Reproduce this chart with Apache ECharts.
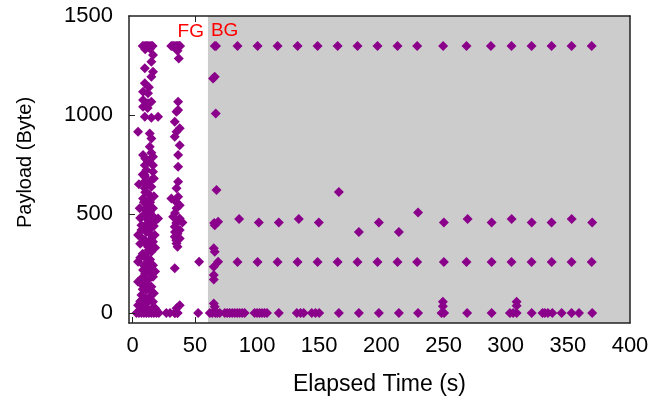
<!DOCTYPE html>
<html>
<head>
<meta charset="utf-8">
<script src="https://cdn.jsdelivr.net/npm/echarts@6/dist/echarts.min.js"></script>
<style>
  html, body { margin: 0; padding: 0; background: #fff; }
  #chart { width: 652px; height: 397px; }
</style>
</head>
<body>
<div id="chart"></div>
<script>
// tick labels
const xTicks = [0, 50, 100, 150, 200, 250, 300, 350, 400];
const yTicks = [0, 500, 1000, 1500];

// foreground phase (before the app goes to background)
const fgTime = [
  8, 9, 10, 11, 12, 13, 14, 15, 16, 10, 14, 16.3, 15,
  9.7, 16.3, 15, 9.7, 13, 8.3, 12.3, 8.3, 15, 12.3, 8.3, 12, 9.7, 15, 20.4,
  4.3, 13.7, 15, 13.7, 8.3, 16.3, 12.3, 9.7, 16.3, 11, 16.3, 9.7, 9.7, 15,
  9.7, 15, 8.3, 13.7, 5.6, 12.3, 16.3, 11, 20.4, 12.3, 7, 15, 4.3, 13.7, 17.7,
  9.7, 16.3, 12.3, 12.3, 15, 9.7, 4.3, 12.3, 16.3, 8.3, 16.3, 7, 12.3, 4.3,
  15, 11, 7, 13.7, 4.3, 9.7, 16.3,
  10, 14, 8, 16, 12, 9, 14, 11, 7, 15, 10, 13, 8, 11, 14, 9, 13, 10, 14,
  11, 8, 15, 10, 13, 7, 11, 15, 12, 10, 13, 9, 12, 14, 11, 10, 13, 8, 15,
  6, 18, 7, 17, 6, 18, 9, 17, 6, 18, 8, 17, 6, 18, 12, 19, 5, 17,
  3, 5, 7, 9, 11, 13, 15, 17, 19, 21, 6, 10, 14, 18,
  31, 32, 33, 34, 35, 36, 37, 38, 36, 37,
  36.5, 36.5, 35.2, 33.8, 37.8, 35.2, 33.8, 37.8, 36.5, 36.5, 36.5, 35.2,
  31.1, 36.5, 35.2, 32.5, 37.8, 33.8, 37.8, 33.8, 37.8, 35.2, 33.8, 37.8,
  35.2, 35.2, 37.8, 34, 36, 35, 34, 36, 35, 36, 34, 36,
  27, 30, 33.8, 36, 37.8, 40,
  53.4, 52.6, 52.6, 52.6
];
const fgPayload = [
  1348, 1348, 1348, 1348, 1348, 1348, 1348, 1348, 1348, 1332, 1335, 1303, 1269,
  1236, 1219, 1193, 1160, 1140, 1118, 1110, 1076, 1067, 1059, 1042, 1035, 991, 986, 991,
  916, 907, 882, 840, 798, 790, 764, 747, 747, 722, 714, 697, 688, 672,
  630, 638, 579, 571, 529, 537, 529, 504, 478, 470, 444, 444, 394, 402, 394,
  369, 360, 343, 335, 310, 293, 259, 251, 242, 217, 183, 175, 167, 158,
  133, 116, 91, 82, 40, 49, 57,
  520, 510, 490, 490, 455, 430, 425, 410, 380, 375, 355, 320, 300, 275, 270,
  240, 225, 200, 205, 150, 140, 110, 75, 60, 30, 25, 20, 10, 610, 600, 660,
  650, 560, 550, 780, 770, 700, 810,
  480, 465, 420, 440, 350, 330, 560, 590, 280, 210, 120, 100, 60, 25, 20, 15, 650, 680,
  0, 0, 0, 0, 0, 0, 0, 0, 0, 0, 12, 14, 10, 12,
  1348, 1348, 1348, 1348, 1348, 1348, 1348, 1348, 1325, 1286,
  1067, 1025, 1017, 966, 933, 916, 890, 848, 798, 739, 663, 630,
  579, 587, 529, 486, 478, 436, 419, 385, 377, 352,
  226, 40, 24, 560, 545, 505, 465, 455, 410, 400, 368, 335,
  0, 0, 0, 0, 0, 0,
  1348, 458, 259, 0
];

// background phase
const bgTime = [
  66, 67, 64.6, 66, 66.8, 67.4, 66, 68.7, 65.5, 65.2, 66, 68.7, 65.2, 65.2,
  65.2, 65.2, 66,
  84.3, 100.4, 116.5, 132.6, 148.7, 164.8, 180.8, 196.9, 213, 228.8,
  249.7, 268.5, 288.1, 304.7, 320.8, 336.9, 353, 369.2,
  85.6, 101.4, 117.5, 133.6, 149.7, 165.8, 181.9, 198, 214.1, 229.5,
  250.3, 269.4, 288.7, 304.8, 320.9, 336.9, 353.1, 369.6,
  84.3, 100.4, 116.5, 132.6, 148.7, 164.8, 180.8, 196.9, 213, 228.8,
  250.3, 268.5, 288.7, 304.7, 320.8, 337, 353, 369.2,
  62, 64, 66.5, 68, 70, 74, 76, 78, 80, 82, 84, 86, 88, 90,
  98, 100, 102, 104, 106, 108, 117.5, 132, 135, 137.5, 144, 147, 150,
  165.8, 181.9, 198, 214.1, 229.5, 248.4, 250.5, 269, 288.7,
  303.4, 306, 308.8, 320.9, 329.6, 331.5, 334, 337.5, 345, 353, 359, 369.6,
  249.5, 249.5, 308.8, 308.8
];
const bgPayload = [
  1348, 1348, 1185, 1193, 1008, 622, 444, 461, 455, 327, 310, 259, 234, 192,
  170, 49, 32,
  1348, 1348, 1348, 1348, 1348, 1348, 1348, 1348, 1348, 1348,
  1348, 1348, 1348, 1348, 1348, 1348, 1348, 1348,
  475, 458, 458, 475, 458, 612, 409, 458, 409, 508,
  458, 475, 458, 475, 458, 458, 475, 458,
  258, 258, 258, 258, 258, 258, 258, 258, 258, 258,
  258, 258, 258, 258, 258, 258, 258, 258,
  0, 0, 0, 0, 0, 0, 0, 0, 0, 0, 0, 0, 0, 0,
  0, 0, 0, 0, 0, 0, 0, 0, 0, 0, 0, 0, 0,
  0, 0, 0, 0, 0, 0, 0, 0, 0,
  0, 0, 0, 0, 0, 0, 0, 0, 0, 0, 0, 0,
  35, 57, 37, 57
];

const bgStart = 60.5;
const xMin = -3, xMax = 400, yMin = -50, yMax = 1500;

const points = fgTime.map((t, i) => [t, fgPayload[i]])
  .concat(bgTime.map((t, i) => [t, bgPayload[i]]));

const chart = echarts.init(document.getElementById('chart'));
const font = 'Liberation Sans, Arial, Helvetica, sans-serif';
const frame = { show: true, onZero: false, lineStyle: { color: '#222', width: 1.5 } };
const plain = v => String(v);

chart.setOption({
  animation: false,
  backgroundColor: '#fff',
  textStyle: { fontFamily: font },
  grid: { left: 129, right: 22, top: 16, bottom: 74, outerBoundsMode: 'none', containLabel: false },
  xAxis: [
    {
      type: 'value', min: xMin, max: xMax, z: 10,
      name: 'Elapsed Time (s)', nameLocation: 'middle', nameGap: 50,
      nameTextStyle: { fontSize: 23, color: '#000', fontFamily: font },
      axisLine: frame,
      axisTick: { inside: true, length: 6, customValues: [0, 50], lineStyle: { color: '#222' } },
      axisLabel: { customValues: xTicks, formatter: plain, fontSize: 22, color: '#000', margin: 12, fontFamily: font },
      splitLine: { show: false }
    },
    {
      type: 'value', position: 'top', min: xMin, max: xMax, z: 10,
      axisLine: frame,
      axisTick: { inside: true, length: 6, customValues: [50], lineStyle: { color: '#222' } },
      axisLabel: { show: false },
      splitLine: { show: false }
    }
  ],
  yAxis: [
    {
      type: 'value', min: yMin, max: yMax, z: 10,
      name: 'Payload (Byte)', nameLocation: 'middle', nameGap: 94,
      nameTextStyle: { fontSize: 20, color: '#000', fontFamily: font, padding: [0, 0, 0, 14] },
      axisLine: frame,
      axisTick: { inside: true, length: 6, customValues: [0, 500, 1000], lineStyle: { color: '#222' } },
      axisLabel: { customValues: yTicks, formatter: plain, fontSize: 22, color: '#000', margin: 16, fontFamily: font },
      splitLine: { show: false }
    },
    {
      type: 'value', position: 'right', min: yMin, max: yMax, z: 10,
      axisLine: frame,
      axisTick: { show: false },
      axisLabel: { show: false },
      splitLine: { show: false }
    }
  ],
  series: [
    {
      type: 'line', data: [], z: 1, silent: true,
      markArea: {
        silent: true,
        data: [
          [
            { xAxis: bgStart, yAxis: yMin, itemStyle: { color: '#cccccc' },
              label: { show: true, position: 'insideTopLeft', formatter: 'BG', color: '#ff0000', fontSize: 19, distance: 3, offset: [0, 2], fontFamily: font } },
            { xAxis: xMax, yAxis: yMax }
          ],
          [
            { xAxis: xMin, yAxis: yMin, itemStyle: { color: 'rgba(0,0,0,0)' },
              label: { show: true, position: 'insideTopRight', formatter: 'FG', color: '#ff0000', fontSize: 19, distance: 4, offset: [0, 2], fontFamily: font } },
            { xAxis: bgStart, yAxis: yMax }
          ]
        ]
      }
    },
    {
      type: 'scatter', z: 3,
      symbol: 'diamond', symbolSize: [10, 10],
      itemStyle: { color: '#8b008b', opacity: 1 },
      data: points
    }
  ]
});
</script>
</body>
</html>
